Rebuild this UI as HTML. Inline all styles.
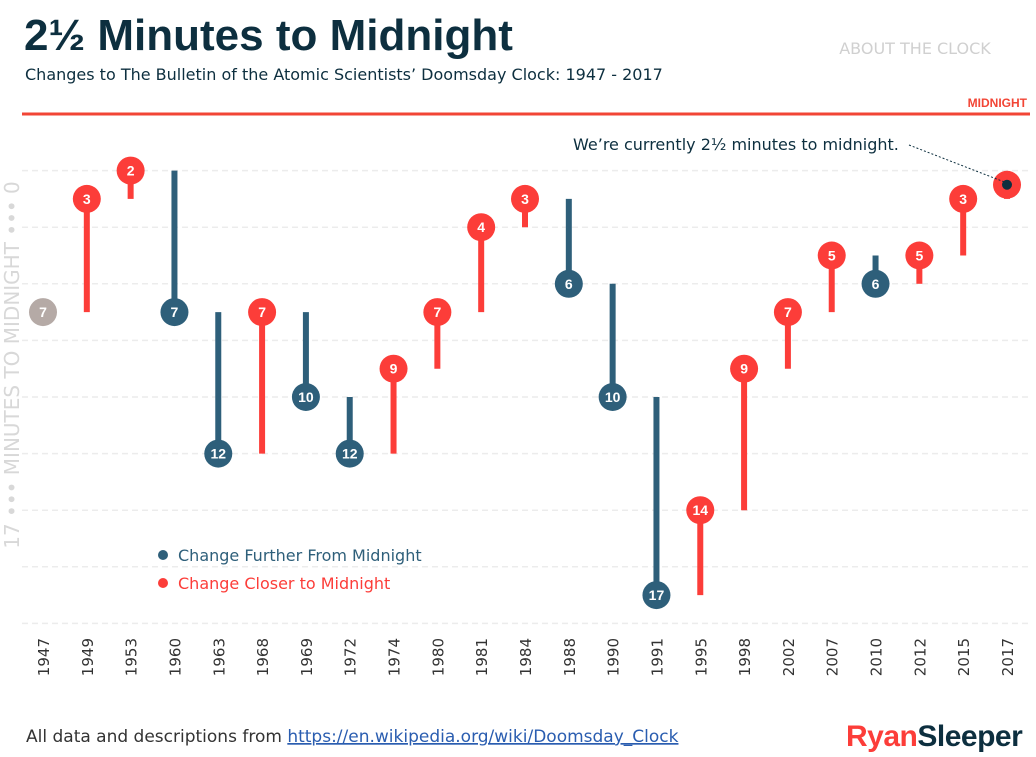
<!DOCTYPE html>
<html><head><meta charset="utf-8"><style>
body{margin:0;width:1036px;height:757px;background:#fff;overflow:hidden;font-family:"Liberation Sans","DejaVu Sans",sans-serif}
</style></head><body>
<svg width="1036" height="757" style="position:absolute;left:0;top:0">
<text x="24" y="50" font-size="44" font-weight="bold" fill="#0d2f3f">2½ Minutes to Midnight</text>
<text x="25" y="80" font-size="16" font-family="DejaVu Sans" fill="#0d2f3f">Changes to The Bulletin of the Atomic Scientists’ Doomsday Clock: 1947 - 2017</text>
<text x="915" y="54" font-size="16" font-family="DejaVu Sans" fill="#d0d0d0" text-anchor="middle">ABOUT THE CLOCK</text>
<text x="1027" y="107" font-size="12" font-weight="bold" fill="#f24535" text-anchor="end">MIDNIGHT</text>
<line x1="22" y1="114" x2="1030" y2="114" stroke="#f24535" stroke-width="3"/>
<g id="grid"></g>
<text transform="translate(19,365) rotate(-90)" font-size="20" font-family="DejaVu Sans" fill="#d8d8d8" text-anchor="middle">17 ••• MINUTES TO MIDNIGHT ••• 0</text>
<g id="marks"></g>
<g id="xlabels"></g>
<text x="573" y="150" font-size="16" font-family="DejaVu Sans" fill="#0d2f3f">We’re currently 2½ minutes to midnight.</text>
<line x1="909" y1="145" x2="1007" y2="183" stroke="#0d2f3f" stroke-width="1" stroke-dasharray="2,2"/>
<circle cx="163" cy="555" r="5" fill="#2e5f7a"/>
<text x="178" y="561" font-size="16" font-family="DejaVu Sans" fill="#2e5f7a">Change Further From Midnight</text>
<circle cx="163" cy="583" r="5" fill="#fc3d39"/>
<text x="178" y="589" font-size="16" font-family="DejaVu Sans" fill="#fc3d39">Change Closer to Midnight</text>
<text x="26" y="742" font-size="17" font-family="DejaVu Sans" fill="#333">All data and descriptions from <tspan fill="#2a5db0" text-decoration="underline">https://en.wikipedia.org/wiki/Doomsday_Clock</tspan></text>
<text x="846" y="746" font-size="30" font-weight="bold" letter-spacing="-0.5"><tspan fill="#fc3d39">Ryan</tspan><tspan fill="#0d2f3f">Sleeper</tspan></text>
</svg>
<script>
const years=["1947","1949","1953","1960","1963","1968","1969","1972","1974","1980","1981","1984","1988","1990","1991","1995","1998","2002","2007","2010","2012","2015","2017"];
const minutes=[7,3,2,7,12,7,10,12,9,7,4,3,6,10,17,14,9,7,5,6,5,3,2.5];
const gridTicks=[2,4,6,8,10,12,14,16,18];
const NS="http://www.w3.org/2000/svg";
const x0=43,x1=1007;
function xs(i){return x0+(x1-x0)*i/(years.length-1);}
function ys(m){return 114+28.3*m;}
function mk(tag,attrs,parent){const e=document.createElementNS(NS,tag);for(const k in attrs)e.setAttribute(k,attrs[k]);parent.appendChild(e);return e;}
const grid=document.getElementById('grid'),marks=document.getElementById('marks'),xl=document.getElementById('xlabels');
gridTicks.forEach(t=>{
 const l=mk('line',{x1:22,x2:1030,y1:ys(t),y2:ys(t),stroke:'#ececec','stroke-width':1.5,'stroke-dasharray':'6,4'},grid);
 
 
});
const BLUE='#2e5f7a',RED='#fc3d39',GRAY='#b5aaa6';
years.forEach((y,i)=>{
 const m=minutes[i],x=xs(i);
 let col=GRAY;
 if(i>0){
  const p=minutes[i-1];col=m>p?BLUE:RED;
  const b=mk('line',{x1:x,x2:x,y1:ys(p),y2:ys(m),stroke:col,'stroke-width':6},marks);
  
  
 }
 const c=mk('circle',{cx:x,cy:ys(m),r:14,fill:col},marks);
 
 
 if(Number.isInteger(m)){
  const t=mk('text',{x:x,y:ys(m)+5,'text-anchor':'middle','font-size':14,'font-weight':'bold',fill:'#fff'},marks);
  t.textContent=m;
  
  
 } else {
  const d=mk('circle',{cx:x,cy:ys(m),r:5,fill:'#0d2f3f'},marks);
  
  
 }
 const lb=mk('text',{transform:`translate(${x+6},638) rotate(-90)`,'text-anchor':'end','font-size':15,'font-family':'DejaVu Sans',fill:'#333'},xl);
 lb.textContent=y;
 
 
});
</script>
</body></html>
